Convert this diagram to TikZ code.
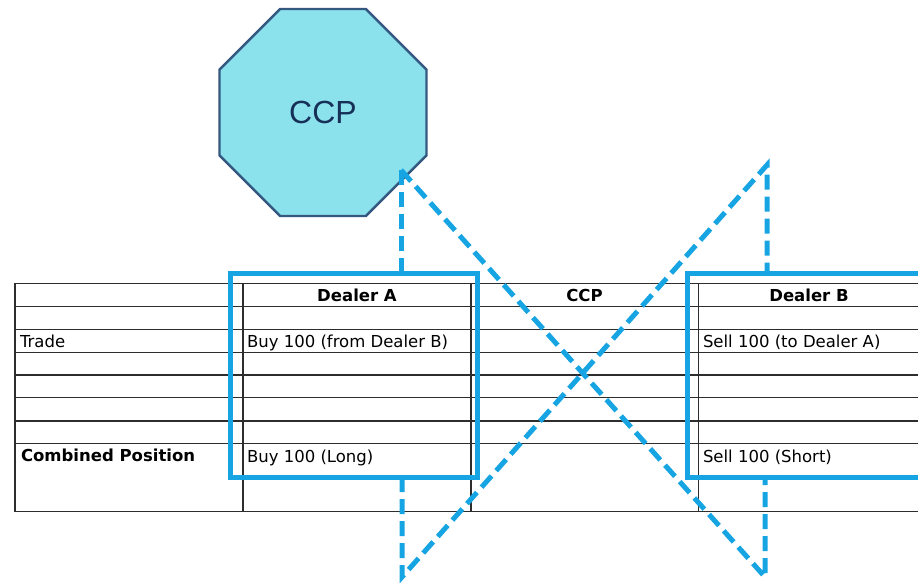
\documentclass[tikz,border=0pt]{standalone}
\usepackage{fontspec}
\setmainfont{DejaVu Sans}
\newfontfamily\ccpfont{Liberation Sans}
\usetikzlibrary{shapes.geometric}

\definecolor{linkblue}{RGB}{22,165,226}
\definecolor{octfill}{RGB}{140,226,236}
\definecolor{octline}{RGB}{52,88,128}
\definecolor{octtext}{RGB}{22,48,88}
\definecolor{gridline}{RGB}{45,45,45}

\tikzset{
  gridrule/.style={draw=gridline, line width=1.3pt},
  cell/.style={inner sep=0pt, outer sep=0pt, font=\fontsize{16.5}{19}\selectfont},
  head/.style={cell, font=\fontsize{16.5}{19}\selectfont\bfseries},
  holder/.style={draw=linkblue, line width=5pt, inner sep=0pt, outer sep=0pt},
  link/.style={draw=linkblue, line width=5pt, dash pattern=on 15pt off 7pt},
  party/.style={regular polygon, regular polygon sides=8, minimum size=224pt,
    inner sep=0pt, outer sep=0pt, fill=octfill, draw=octline, line width=2.4pt,
    text=octtext, font=\ccpfont\fontsize{32}{36}\selectfont}
}

\begin{document}
\begin{tikzpicture}[x=1pt,y=-1pt]
  \useasboundingbox (0,0) rectangle (918,582);
  \clip (0,0) rectangle (918,582);

  % clearing house
  \node[party] (ccp) at (323,112.5) {CCP};

  % position table: rows and columns
  \foreach \r in {283.3,306.7,329.3,352.3,375,397.7,421,443.7,511.7}
    \draw[gridrule] (15,\r) -- (930,\r);
  \foreach \c in {15,243,471,698.3}
    \draw[gridrule] (\c,283.3) -- (\c,511.7);

  % column headings
  \node[head, anchor=base] (hA)   at (357,301.5)   {Dealer A};
  \node[head, anchor=base] (hC)   at (584.5,301.5) {CCP};
  \node[head, anchor=base] (hB)   at (809,301.5)   {Dealer B};

  % rows
  \node[cell, anchor=base west] (trade) at (20,347)  {Trade};
  \node[cell, anchor=base west] (tA)    at (247,347) {Buy 100 (from Dealer B)};
  \node[cell, anchor=base west] (tB)    at (703,347) {Sell 100 (to Dealer A)};
  \node[head, anchor=base west] (comb)  at (21,461)  {Combined Position};
  \node[cell, anchor=base west] (cA)    at (247,462) {Buy 100 (Long)};
  \node[cell, anchor=base west] (cB)    at (703,462) {Sell 100 (Short)};

  % dealer outlines
  \node[holder, minimum width=247pt, minimum height=204pt] (boxA) at (353.5,375) {};
  \node[holder, minimum width=260pt, minimum height=204pt, anchor=west] (boxB) at (687,375) {};

  % novation links
  \coordinate (apexL) at (401,170);
  \coordinate (apexR) at (767,165);
  \coordinate (footL) at (402,577);
  \coordinate (footR) at (765,577);

  \draw[link] (apexL) -- (apexL |- boxA.north);
  \draw[link] (apexL) -- (footR) -- (footR |- boxB.south);
  \draw[link] (footL |- boxA.south) -- (footL) -- (apexR) -- (apexR |- boxB.north);
\end{tikzpicture}
\end{document}
